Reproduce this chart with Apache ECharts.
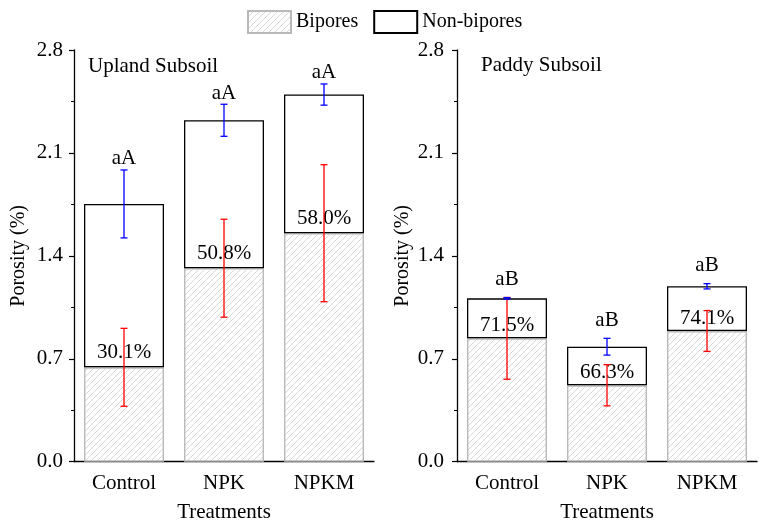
<!DOCTYPE html>
<html>
<head>
<meta charset="utf-8">
<script src="https://cdn.jsdelivr.net/npm/echarts@6/dist/echarts.min.js"></script>
<style>
html,body{margin:0;padding:0;background:#fff;}
#chart{width:760px;height:524px;}
</style>
</head>
<body>
<div id="chart"></div>
<script>
// ---- data ----
const categories = ['Control', 'NPK', 'NPKM'];
const yMin = 0, yMax = 2.8, yInterval = 0.7;
const seriesNames = ['Bipores', 'Non-bipores'];
const panelTitles = ['Upland Subsoil', 'Paddy Subsoil'];

const uplandBipores = [0.642, 1.316, 1.554];
const uplandNonBipores = [1.111, 1.006, 0.943];
const uplandBiporesErr = [0.265, 0.333, 0.466];
const uplandTotalErr = [0.231, 0.109, 0.072];
const uplandPercent = ['30.1%', '50.8%', '58.0%'];
const uplandLetters = ['aA', 'aA', 'aA'];

const paddyBipores = [0.839, 0.520, 0.889];
const paddyNonBipores = [0.272, 0.262, 0.304];
const paddyBiporesErr = [0.278, 0.140, 0.139];
const paddyTotalErr = [0.005, 0.057, 0.018];
const paddyPercent = ['71.5%', '66.3%', '74.1%'];
const paddyLetters = ['aB', 'aB', 'aB'];

// ---- styling ----
const FONT = '"Liberation Serif", "Times New Roman", serif';
const FS = 21;
function hatch() {
  const c = document.createElement('canvas');
  c.width = 6; c.height = 6;
  const g = c.getContext('2d');
  g.fillStyle = '#ffffff';
  g.fillRect(0, 0, 6, 6);
  g.strokeStyle = '#d4d4d4';
  g.lineWidth = 0.9;
  g.beginPath();
  g.moveTo(-1, 7); g.lineTo(7, -1);
  g.moveTo(-4, 4); g.lineTo(4, -4);
  g.moveTo(2, 10); g.lineTo(10, 2);
  g.stroke();
  return c;
}
const hatchPattern = { image: hatch(), repeat: 'repeat' };

const grids = [
  { left: 74, top: 50, width: 300, height: 411.7, outerBoundsMode: 'none', containLabel: false },
  { left: 457, top: 50, width: 300, height: 411.7, outerBoundsMode: 'none', containLabel: false }
];

function xAxes(gi) {
  return [
    {
      type: 'category', gridIndex: gi, data: categories,
      axisLine: { lineStyle: { color: '#000', width: 1.3 } },
      axisTick: { alignWithLabel: true, length: 5, lineStyle: { color: '#000', width: 1.2 } },
      axisLabel: { color: '#000', fontFamily: FONT, fontSize: FS, margin: 11 },
      name: 'Treatments', nameLocation: 'middle', nameGap: 40,
      nameTextStyle: { color: '#000', fontFamily: FONT, fontSize: FS }
    },
    {
      type: 'category', gridIndex: gi, data: categories, position: 'bottom',
      axisLine: { show: false },
      axisTick: { length: 4, lineStyle: { color: '#000', width: 1.2 } },
      axisLabel: { show: false }
    }
  ];
}
function yAxis(gi, margin, gap) {
  return {
    type: 'value', gridIndex: gi, min: yMin, max: yMax, interval: yInterval,
    axisLine: { show: true, lineStyle: { color: '#000', width: 1.3 } },
    axisTick: { show: true, length: 5, lineStyle: { color: '#000', width: 1.2 } },
    minorTick: { show: true, splitNumber: 2, length: 3, lineStyle: { color: '#000', width: 1 } },
    splitLine: { show: false },
    axisLabel: { color: '#000', fontFamily: FONT, fontSize: FS, margin: margin,
      formatter: v => v.toFixed(1) },
    name: 'Porosity (%)', nameLocation: 'middle', nameGap: gap, nameRotate: 90,
    nameTextStyle: { color: '#000', fontFamily: FONT, fontSize: 20 }
  };
}

function barSeries(gi, bip, non) {
  return [
    {
      name: seriesNames[0], type: 'bar', xAxisIndex: gi * 2, yAxisIndex: gi, stack: 's' + gi,
      barWidth: '80%', data: bip,
      itemStyle: { color: hatchPattern, borderColor: '#b9b9b9', borderWidth: 1.4 },
      z: 2
    },
    {
      name: seriesNames[1], type: 'bar', xAxisIndex: gi * 2, yAxisIndex: gi, stack: 's' + gi,
      barWidth: '80%', data: non,
      itemStyle: { color: '#ffffff', borderColor: '#000000', borderWidth: 1.3 },
      z: 2
    }
  ];
}

function errSeries(gi, centers, errs, color) {
  return {
    type: 'custom', xAxisIndex: gi * 2, yAxisIndex: gi, z: 5, silent: true,
    data: centers.map((c, i) => [i, c, errs[i]]),
    renderItem: function (params, api) {
      const x = api.value(0), c = api.value(1), e = api.value(2);
      const t = api.coord([x, c + e]);
      const b = api.coord([x, c - e]);
      const w = 3.5;
      const st = { stroke: color, lineWidth: 1.3 };
      return {
        type: 'group', children: [
          { type: 'line', shape: { x1: t[0], y1: t[1], x2: b[0], y2: b[1] }, style: st },
          { type: 'line', shape: { x1: t[0] - w, y1: t[1], x2: t[0] + w, y2: t[1] }, style: st },
          { type: 'line', shape: { x1: b[0] - w, y1: b[1], x2: b[0] + w, y2: b[1] }, style: st }
        ]
      };
    }
  };
}

function textSeries(gi, anchors, texts, dy) {
  return {
    type: 'custom', xAxisIndex: gi * 2, yAxisIndex: gi, z: 4, silent: true,
    data: anchors.map((a, i) => [i, a]),
    renderItem: function (params, api) {
      const p = api.coord([api.value(0), api.value(1)]);
      return {
        type: 'text', x: p[0], y: p[1] - dy,
        style: { text: texts[params.dataIndex], fill: '#000', font: FS + 'px ' + FONT,
          align: 'center', verticalAlign: 'middle' }
      };
    }
  };
}

const uplandTotal = uplandBipores.map((v, i) => v + uplandNonBipores[i]);
const paddyTotal = paddyBipores.map((v, i) => v + paddyNonBipores[i]);

const option = {
  animation: false,
  backgroundColor: '#fff',
  textStyle: { fontFamily: FONT },
  title: [
    { text: panelTitles[0], left: 83, top: 51, textStyle: { fontFamily: FONT, fontSize: FS, fontWeight: 'normal', color: '#000' } },
    { text: panelTitles[1], left: 476, top: 50, textStyle: { fontFamily: FONT, fontSize: FS, fontWeight: 'normal', color: '#000' } }
  ],
  legend: {
    data: seriesNames, left: 242, top: 5, itemWidth: 43, itemHeight: 22, itemGap: 15,
    icon: 'rect',
    textStyle: { fontFamily: FONT, fontSize: 20, color: '#000' }
  },
  grid: grids,
  xAxis: [].concat(xAxes(0), xAxes(1)),
  yAxis: [yAxis(0, 11, 45), yAxis(1, 13, 44)],
  series: [].concat(
    barSeries(0, uplandBipores, uplandNonBipores),
    barSeries(1, paddyBipores, paddyNonBipores),
    [
      textSeries(0, uplandBipores, uplandPercent, 15),
      textSeries(1, paddyBipores, paddyPercent, 13),
      errSeries(0, uplandBipores, uplandBiporesErr, '#ff0000'),
      errSeries(0, uplandTotal, uplandTotalErr, '#0000ff'),
      errSeries(1, paddyBipores, paddyBiporesErr, '#ff0000'),
      errSeries(1, paddyTotal, paddyTotalErr, '#0000ff'),
      textSeries(0, uplandTotal.map((v, i) => v + uplandTotalErr[i]), uplandLetters, 11),
      textSeries(1, paddyTotal.map((v, i) => v + paddyTotalErr[i]), paddyLetters, 18)
    ]
  )
};

const chart = echarts.init(document.getElementById('chart'), null, { renderer: 'canvas' });
chart.setOption(option);
</script>
</body>
</html>
